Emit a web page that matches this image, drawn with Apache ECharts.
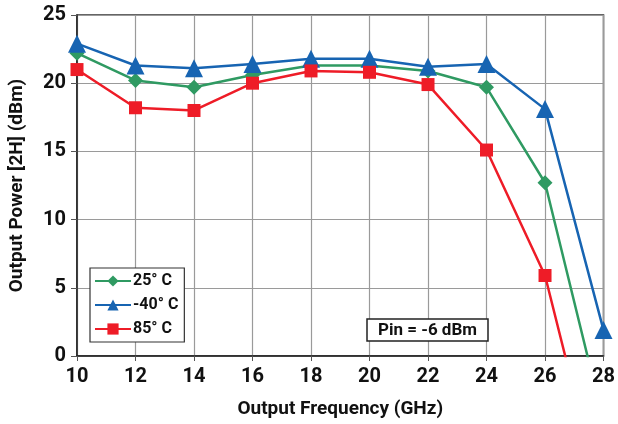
<!DOCTYPE html>
<html><head><meta charset="utf-8">
<script src="https://cdn.jsdelivr.net/npm/echarts@6/dist/echarts.min.js"></script>
<style>html,body{margin:0;padding:0;background:#fff}#c{width:618px;height:424px}</style>
</head><body><div id="c"></div>
<script>
const freqs = [10, 12, 14, 16, 18, 20, 22, 24, 26, 28];
const p25 = [22.2, 20.2, 19.7, 20.6, 21.3, 21.3, 20.9, 19.7, 12.7, -4.8];
const pm40 = [22.9, 21.3, 21.1, 21.4, 21.8, 21.8, 21.2, 21.4, 18.1, 1.9];
const p85 = [21.0, 18.2, 18.0, 20.0, 20.9, 20.8, 19.9, 15.1, 5.9, -11.2];
const names = ['25° C', '-40° C', '85° C'];
const xTicks = [10, 12, 14, 16, 18, 20, 22, 24, 26, 28];
const yTicks = [0, 5, 10, 15, 20, 25];

const FONT = '"Liberation Sans Narrow", Roboto, sans-serif';
const zip = a => freqs.map((f, i) => [f, a[i]]);
const chart = echarts.init(document.getElementById('c'), null, {renderer: 'canvas'});
const mk = (name, data, color, symbol, size) => ({
  name, type: 'line', data: zip(data), clip: true,
  symbol, symbolSize: size,
  lineStyle: {color, width: 2.5},
  itemStyle: {color},
  emphasis: {disabled: true}
});
chart.setOption({
  animation: false,
  textStyle: {fontFamily: FONT},
  grid: {left: 76, right: 11, top: 15, bottom: 67, show: true, borderColor: '#333', borderWidth: 1.5},
  title: {
    text: 'Pin = -6 dBm', left: 367, top: 319,
    borderColor: '#222', borderWidth: 1.5, padding: [3, 11, 2, 11],
    backgroundColor: '#fff',
    textStyle: {fontFamily: FONT, fontWeight: 'bold', fontSize: 17, color: '#111'}
  },
  legend: {
    orient: 'vertical', left: 90, top: 268,
    borderColor: '#333', borderWidth: 1.2, backgroundColor: '#fff',
    padding: [5, 6, 5, 4], itemGap: 8, itemWidth: 36, itemHeight: 14,
    textStyle: {fontFamily: FONT, fontWeight: 'bold', fontSize: 16, color: '#111', padding: [0, 0, 0, -3]},
    data: names
  },
  xAxis: {
    type: 'value', min: 10, max: 28, interval: 2,
    name: 'Output Frequency (GHz)', nameLocation: 'middle', nameGap: 44,
    nameTextStyle: {fontFamily: FONT, fontWeight: 'bold', fontSize: 19, color: '#111'},
    axisLine: {lineStyle: {color: '#222', width: 1.5}},
    axisTick: {show: true, length: 5, lineStyle: {color: '#555'}},
    axisLabel: {fontFamily: FONT, fontWeight: 'bold', fontSize: 20, color: '#111', margin: 11,
      formatter: v => xTicks.includes(v) ? String(v) : ''},
    splitLine: {show: true, lineStyle: {color: '#9a9a9a', width: 1.2}}
  },
  yAxis: {
    type: 'value', min: 0, max: 25, interval: 5,
    name: 'Output Power [2H] (dBm)', nameLocation: 'middle', nameGap: 50,
    nameTextStyle: {fontFamily: FONT, fontWeight: 'bold', fontSize: 19, color: '#111'},
    axisLine: {show: true, lineStyle: {color: '#222', width: 1.5}},
    axisTick: {show: true, length: 6, lineStyle: {color: '#555'}},
    axisLabel: {fontFamily: FONT, fontWeight: 'bold', fontSize: 20, color: '#111', margin: 11,
      formatter: v => yTicks.includes(v) ? String(v) : ''},
    splitLine: {show: true, lineStyle: {color: '#9a9a9a', width: 1.2}}
  },
  series: [
    mk(names[0], p25, '#2f9a62', 'diamond', 15),
    mk(names[1], pm40, '#1764b2', 'triangle', 18),
    mk(names[2], p85, '#ee1c27', 'rect', 13)
  ]
});
</script></body></html>
